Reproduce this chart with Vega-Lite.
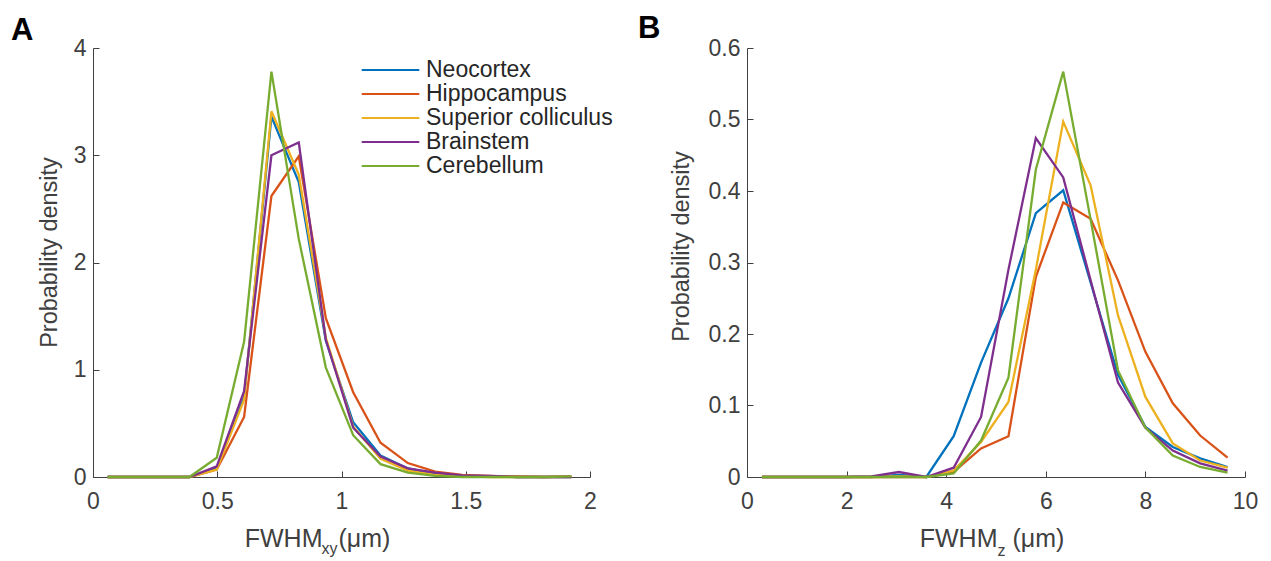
{
  "$schema": "https://vega.github.io/schema/vega-lite/v6.json",
  "autosize": "none",
  "padding": {"left": 93, "top": 48, "right": 1178, "bottom": 513},
  "bounds": "flush",
  "spacing": 157,
  "background": "white",
  "config": {
    "font": "Liberation Sans",
    "view": {"stroke": null},
    "axis": {
      "grid": false,
      "labelFont": "Liberation Sans",
      "labelFontSize": 23,
      "labelColor": "#404040",
      "titleFont": "Liberation Sans",
      "titleFontSize": 23.5,
      "titleFontWeight": "normal",
      "titleColor": "#404040",
      "domainColor": "#404040",
      "domainWidth": 1,
      "tickColor": "#404040",
      "tickWidth": 1,
      "tickSize": -6,
      "labelFlush": false,
      "labelOverlap": false,
      "labelBound": false
    },
    "title": {"font": "Liberation Sans", "color": "black"}
  },
  "datasets": {
    "xy": [
      {"region": "Neocortex", "x": 0.059, "density": 0}, {"region": "Neocortex", "x": 0.169, "density": 0}, {"region": "Neocortex", "x": 0.279, "density": 0}, {"region": "Neocortex", "x": 0.388, "density": 0}, {"region": "Neocortex", "x": 0.498, "density": 0.08}, {"region": "Neocortex", "x": 0.608, "density": 0.74}, {"region": "Neocortex", "x": 0.718, "density": 3.36}, {"region": "Neocortex", "x": 0.828, "density": 2.75}, {"region": "Neocortex", "x": 0.937, "density": 1.27}, {"region": "Neocortex", "x": 1.047, "density": 0.51}, {"region": "Neocortex", "x": 1.157, "density": 0.2}, {"region": "Neocortex", "x": 1.267, "density": 0.08}, {"region": "Neocortex", "x": 1.377, "density": 0.03}, {"region": "Neocortex", "x": 1.486, "density": 0.01}, {"region": "Neocortex", "x": 1.596, "density": 0.005}, {"region": "Neocortex", "x": 1.706, "density": 0}, {"region": "Neocortex", "x": 1.816, "density": 0}, {"region": "Neocortex", "x": 1.925, "density": 0},
      {"region": "Hippocampus", "x": 0.059, "density": 0}, {"region": "Hippocampus", "x": 0.169, "density": 0}, {"region": "Hippocampus", "x": 0.279, "density": 0}, {"region": "Hippocampus", "x": 0.388, "density": 0}, {"region": "Hippocampus", "x": 0.498, "density": 0.07}, {"region": "Hippocampus", "x": 0.608, "density": 0.56}, {"region": "Hippocampus", "x": 0.718, "density": 2.62}, {"region": "Hippocampus", "x": 0.828, "density": 2.99}, {"region": "Hippocampus", "x": 0.937, "density": 1.48}, {"region": "Hippocampus", "x": 1.047, "density": 0.79}, {"region": "Hippocampus", "x": 1.157, "density": 0.32}, {"region": "Hippocampus", "x": 1.267, "density": 0.13}, {"region": "Hippocampus", "x": 1.377, "density": 0.05}, {"region": "Hippocampus", "x": 1.486, "density": 0.02}, {"region": "Hippocampus", "x": 1.596, "density": 0.01}, {"region": "Hippocampus", "x": 1.706, "density": 0.005}, {"region": "Hippocampus", "x": 1.816, "density": 0}, {"region": "Hippocampus", "x": 1.925, "density": 0.005},
      {"region": "Superior colliculus", "x": 0.059, "density": 0}, {"region": "Superior colliculus", "x": 0.169, "density": 0}, {"region": "Superior colliculus", "x": 0.279, "density": 0}, {"region": "Superior colliculus", "x": 0.388, "density": 0}, {"region": "Superior colliculus", "x": 0.498, "density": 0.07}, {"region": "Superior colliculus", "x": 0.608, "density": 0.72}, {"region": "Superior colliculus", "x": 0.718, "density": 3.41}, {"region": "Superior colliculus", "x": 0.828, "density": 2.82}, {"region": "Superior colliculus", "x": 0.937, "density": 1.3}, {"region": "Superior colliculus", "x": 1.047, "density": 0.47}, {"region": "Superior colliculus", "x": 1.157, "density": 0.17}, {"region": "Superior colliculus", "x": 1.267, "density": 0.06}, {"region": "Superior colliculus", "x": 1.377, "density": 0.02}, {"region": "Superior colliculus", "x": 1.486, "density": 0.01}, {"region": "Superior colliculus", "x": 1.596, "density": 0}, {"region": "Superior colliculus", "x": 1.706, "density": 0}, {"region": "Superior colliculus", "x": 1.816, "density": 0}, {"region": "Superior colliculus", "x": 1.925, "density": 0},
      {"region": "Brainstem", "x": 0.059, "density": 0}, {"region": "Brainstem", "x": 0.169, "density": 0}, {"region": "Brainstem", "x": 0.279, "density": 0}, {"region": "Brainstem", "x": 0.388, "density": 0}, {"region": "Brainstem", "x": 0.498, "density": 0.1}, {"region": "Brainstem", "x": 0.608, "density": 0.8}, {"region": "Brainstem", "x": 0.718, "density": 3.0}, {"region": "Brainstem", "x": 0.828, "density": 3.12}, {"region": "Brainstem", "x": 0.937, "density": 1.28}, {"region": "Brainstem", "x": 1.047, "density": 0.46}, {"region": "Brainstem", "x": 1.157, "density": 0.19}, {"region": "Brainstem", "x": 1.267, "density": 0.08}, {"region": "Brainstem", "x": 1.377, "density": 0.04}, {"region": "Brainstem", "x": 1.486, "density": 0.015}, {"region": "Brainstem", "x": 1.596, "density": 0.01}, {"region": "Brainstem", "x": 1.706, "density": 0}, {"region": "Brainstem", "x": 1.816, "density": 0}, {"region": "Brainstem", "x": 1.925, "density": 0},
      {"region": "Cerebellum", "x": 0.059, "density": 0}, {"region": "Cerebellum", "x": 0.169, "density": 0}, {"region": "Cerebellum", "x": 0.279, "density": 0}, {"region": "Cerebellum", "x": 0.388, "density": 0}, {"region": "Cerebellum", "x": 0.498, "density": 0.18}, {"region": "Cerebellum", "x": 0.608, "density": 1.26}, {"region": "Cerebellum", "x": 0.718, "density": 3.78}, {"region": "Cerebellum", "x": 0.828, "density": 2.22}, {"region": "Cerebellum", "x": 0.937, "density": 1.02}, {"region": "Cerebellum", "x": 1.047, "density": 0.39}, {"region": "Cerebellum", "x": 1.157, "density": 0.12}, {"region": "Cerebellum", "x": 1.267, "density": 0.04}, {"region": "Cerebellum", "x": 1.377, "density": 0.01}, {"region": "Cerebellum", "x": 1.486, "density": 0}, {"region": "Cerebellum", "x": 1.596, "density": 0}, {"region": "Cerebellum", "x": 1.706, "density": 0}, {"region": "Cerebellum", "x": 1.816, "density": 0}, {"region": "Cerebellum", "x": 1.925, "density": 0.005}
    ],
    "z": [
      {"region": "Neocortex", "x": 0.3, "density": 0}, {"region": "Neocortex", "x": 0.85, "density": 0}, {"region": "Neocortex", "x": 1.4, "density": 0}, {"region": "Neocortex", "x": 1.95, "density": 0}, {"region": "Neocortex", "x": 2.5, "density": 0}, {"region": "Neocortex", "x": 3.05, "density": 0.003}, {"region": "Neocortex", "x": 3.6, "density": 0}, {"region": "Neocortex", "x": 4.15, "density": 0.057}, {"region": "Neocortex", "x": 4.7, "density": 0.16}, {"region": "Neocortex", "x": 5.25, "density": 0.25}, {"region": "Neocortex", "x": 5.8, "density": 0.369}, {"region": "Neocortex", "x": 6.35, "density": 0.401}, {"region": "Neocortex", "x": 6.9, "density": 0.272}, {"region": "Neocortex", "x": 7.45, "density": 0.143}, {"region": "Neocortex", "x": 8.0, "density": 0.07}, {"region": "Neocortex", "x": 8.55, "density": 0.042}, {"region": "Neocortex", "x": 9.1, "density": 0.026}, {"region": "Neocortex", "x": 9.65, "density": 0.014},
      {"region": "Hippocampus", "x": 0.3, "density": 0}, {"region": "Hippocampus", "x": 0.85, "density": 0}, {"region": "Hippocampus", "x": 1.4, "density": 0}, {"region": "Hippocampus", "x": 1.95, "density": 0}, {"region": "Hippocampus", "x": 2.5, "density": 0}, {"region": "Hippocampus", "x": 3.05, "density": 0}, {"region": "Hippocampus", "x": 3.6, "density": 0}, {"region": "Hippocampus", "x": 4.15, "density": 0.007}, {"region": "Hippocampus", "x": 4.7, "density": 0.04}, {"region": "Hippocampus", "x": 5.25, "density": 0.057}, {"region": "Hippocampus", "x": 5.8, "density": 0.28}, {"region": "Hippocampus", "x": 6.35, "density": 0.384}, {"region": "Hippocampus", "x": 6.9, "density": 0.361}, {"region": "Hippocampus", "x": 7.45, "density": 0.275}, {"region": "Hippocampus", "x": 8.0, "density": 0.175}, {"region": "Hippocampus", "x": 8.55, "density": 0.103}, {"region": "Hippocampus", "x": 9.1, "density": 0.058}, {"region": "Hippocampus", "x": 9.65, "density": 0.027},
      {"region": "Superior colliculus", "x": 0.3, "density": 0}, {"region": "Superior colliculus", "x": 0.85, "density": 0}, {"region": "Superior colliculus", "x": 1.4, "density": 0}, {"region": "Superior colliculus", "x": 1.95, "density": 0}, {"region": "Superior colliculus", "x": 2.5, "density": 0}, {"region": "Superior colliculus", "x": 3.05, "density": 0.001}, {"region": "Superior colliculus", "x": 3.6, "density": 0}, {"region": "Superior colliculus", "x": 4.15, "density": 0.009}, {"region": "Superior colliculus", "x": 4.7, "density": 0.049}, {"region": "Superior colliculus", "x": 5.25, "density": 0.105}, {"region": "Superior colliculus", "x": 5.8, "density": 0.29}, {"region": "Superior colliculus", "x": 6.35, "density": 0.497}, {"region": "Superior colliculus", "x": 6.9, "density": 0.408}, {"region": "Superior colliculus", "x": 7.45, "density": 0.226}, {"region": "Superior colliculus", "x": 8.0, "density": 0.112}, {"region": "Superior colliculus", "x": 8.55, "density": 0.047}, {"region": "Superior colliculus", "x": 9.1, "density": 0.023}, {"region": "Superior colliculus", "x": 9.65, "density": 0.013},
      {"region": "Brainstem", "x": 0.3, "density": 0}, {"region": "Brainstem", "x": 0.85, "density": 0}, {"region": "Brainstem", "x": 1.4, "density": 0}, {"region": "Brainstem", "x": 1.95, "density": 0}, {"region": "Brainstem", "x": 2.5, "density": 0.001}, {"region": "Brainstem", "x": 3.05, "density": 0.007}, {"region": "Brainstem", "x": 3.6, "density": 0}, {"region": "Brainstem", "x": 4.15, "density": 0.013}, {"region": "Brainstem", "x": 4.7, "density": 0.084}, {"region": "Brainstem", "x": 5.25, "density": 0.29}, {"region": "Brainstem", "x": 5.8, "density": 0.474}, {"region": "Brainstem", "x": 6.35, "density": 0.419}, {"region": "Brainstem", "x": 6.9, "density": 0.275}, {"region": "Brainstem", "x": 7.45, "density": 0.132}, {"region": "Brainstem", "x": 8.0, "density": 0.069}, {"region": "Brainstem", "x": 8.55, "density": 0.037}, {"region": "Brainstem", "x": 9.1, "density": 0.019}, {"region": "Brainstem", "x": 9.65, "density": 0.009},
      {"region": "Cerebellum", "x": 0.3, "density": 0}, {"region": "Cerebellum", "x": 0.85, "density": 0}, {"region": "Cerebellum", "x": 1.4, "density": 0}, {"region": "Cerebellum", "x": 1.95, "density": 0}, {"region": "Cerebellum", "x": 2.5, "density": 0}, {"region": "Cerebellum", "x": 3.05, "density": 0}, {"region": "Cerebellum", "x": 3.6, "density": 0}, {"region": "Cerebellum", "x": 4.15, "density": 0.005}, {"region": "Cerebellum", "x": 4.7, "density": 0.051}, {"region": "Cerebellum", "x": 5.25, "density": 0.139}, {"region": "Cerebellum", "x": 5.8, "density": 0.43}, {"region": "Cerebellum", "x": 6.35, "density": 0.567}, {"region": "Cerebellum", "x": 6.9, "density": 0.36}, {"region": "Cerebellum", "x": 7.45, "density": 0.149}, {"region": "Cerebellum", "x": 8.0, "density": 0.069}, {"region": "Cerebellum", "x": 8.55, "density": 0.03}, {"region": "Cerebellum", "x": 9.1, "density": 0.014}, {"region": "Cerebellum", "x": 9.65, "density": 0.006}
    ]
  },
  "resolve": {"legend": {"color": "independent"}},
  "hconcat": [
    {
      "width": 497,
      "height": 429,
      "title": {"text": "A", "anchor": "start", "frame": "group", "dx": -82, "dy": 34, "offset": 0, "baseline": "alphabetic", "fontSize": 31, "fontWeight": "bold", "color": "black"},
      "data": {"name": "xy"},
      "resolve": {"axis": {"x": "independent"}},
      "layer": [
        {
          "mark": {"type": "line", "strokeWidth": 2.3},
          "encoding": {
            "x": {"field": "x", "type": "quantitative", "scale": {"domain": [0, 2], "nice": false, "zero": false},
              "axis": {"values": [0, 0.5, 1, 1.5, 2], "format": "~g", "labelPadding": 19, "title": "FWHM", "titleX": 229, "titleY": 69, "titleAlign": "right", "titleBaseline": "alphabetic", "titleFontSize": 25}},
            "y": {"field": "density", "type": "quantitative", "title": "Probability density", "scale": {"domain": [0, 4], "nice": false},
              "axis": {"values": [0, 1, 2, 3, 4], "format": "~g", "labelPadding": 13, "titleX": -37, "titleY": 204, "titleAngle": -90, "titleAlign": "center", "titleBaseline": "alphabetic"}},
            "color": {"field": "region", "type": "nominal",
              "scale": {"domain": ["Neocortex", "Hippocampus", "Superior colliculus", "Brainstem", "Cerebellum"], "range": ["#0072BD", "#D95319", "#EDB120", "#7E2F8E", "#77AC30"]},
              "legend": {"orient": "none", "legendX": 286, "legendY": 10.5, "title": null, "padding": 0, "symbolType": "M-4.8,0H4.8", "symbolSize": 144, "symbolStrokeWidth": 2, "labelFont": "Liberation Sans", "labelFontSize": 23, "labelColor": "#262626", "labelOffset": 24, "rowPadding": 0, "labelLimit": 400}}
          }
        },
        {
          "mark": {"type": "point", "opacity": 0},
          "encoding": {
            "x": {"field": "x", "type": "quantitative", "axis": {"orient": "bottom", "domain": false, "ticks": false, "labels": false, "title": "xy", "titleFontSize": 16, "titleX": 228, "titleY": 76, "titleAlign": "left", "titleBaseline": "alphabetic"}},
            "y": {"field": "density", "type": "quantitative", "title": "Probability density"}
          }
        },
        {
          "mark": {"type": "point", "opacity": 0},
          "encoding": {
            "x": {"field": "x", "type": "quantitative", "axis": {"orient": "bottom", "domain": false, "ticks": false, "labels": false, "title": "(μm)", "titleFontSize": 25, "titleX": 245, "titleY": 69, "titleAlign": "left", "titleBaseline": "alphabetic"}},
            "y": {"field": "density", "type": "quantitative", "title": "Probability density"}
          }
        }
      ]
    },
    {
      "width": 498,
      "height": 429,
      "title": {"text": "B", "anchor": "start", "frame": "group", "dx": -109, "dy": 33, "offset": 1, "baseline": "alphabetic", "fontSize": 31, "fontWeight": "bold", "color": "black"},
      "data": {"name": "z"},
      "resolve": {"axis": {"x": "independent"}},
      "layer": [
        {
          "mark": {"type": "line", "strokeWidth": 2.3},
          "encoding": {
            "x": {"field": "x", "type": "quantitative", "scale": {"domain": [0, 10], "nice": false, "zero": false},
              "axis": {"values": [0, 2, 4, 6, 8, 10], "format": "d", "labelPadding": 19, "title": "FWHM", "titleX": 250, "titleY": 69, "titleAlign": "right", "titleBaseline": "alphabetic", "titleFontSize": 25}},
            "y": {"field": "density", "type": "quantitative", "title": "Probability density", "scale": {"domain": [0, 0.6], "nice": false},
              "axis": {"values": [0, 0.1, 0.2, 0.3, 0.4, 0.5, 0.6], "format": "~g", "labelPadding": 13, "titleX": -59, "titleY": 198, "titleAngle": -90, "titleAlign": "center", "titleBaseline": "alphabetic"}},
            "color": {"field": "region", "type": "nominal",
              "scale": {"domain": ["Neocortex", "Hippocampus", "Superior colliculus", "Brainstem", "Cerebellum"], "range": ["#0072BD", "#D95319", "#EDB120", "#7E2F8E", "#77AC30"]},
              "legend": null}
          }
        },
        {
          "mark": {"type": "point", "opacity": 0},
          "encoding": {
            "x": {"field": "x", "type": "quantitative", "axis": {"orient": "bottom", "domain": false, "ticks": false, "labels": false, "title": "z", "titleFontSize": 16, "titleX": 250, "titleY": 78, "titleAlign": "left", "titleBaseline": "alphabetic"}},
            "y": {"field": "density", "type": "quantitative", "title": "Probability density"}
          }
        },
        {
          "mark": {"type": "point", "opacity": 0},
          "encoding": {
            "x": {"field": "x", "type": "quantitative", "axis": {"orient": "bottom", "domain": false, "ticks": false, "labels": false, "title": "(μm)", "titleFontSize": 25, "titleX": 265, "titleY": 69, "titleAlign": "left", "titleBaseline": "alphabetic"}},
            "y": {"field": "density", "type": "quantitative", "title": "Probability density"}
          }
        }
      ]
    }
  ]
}
